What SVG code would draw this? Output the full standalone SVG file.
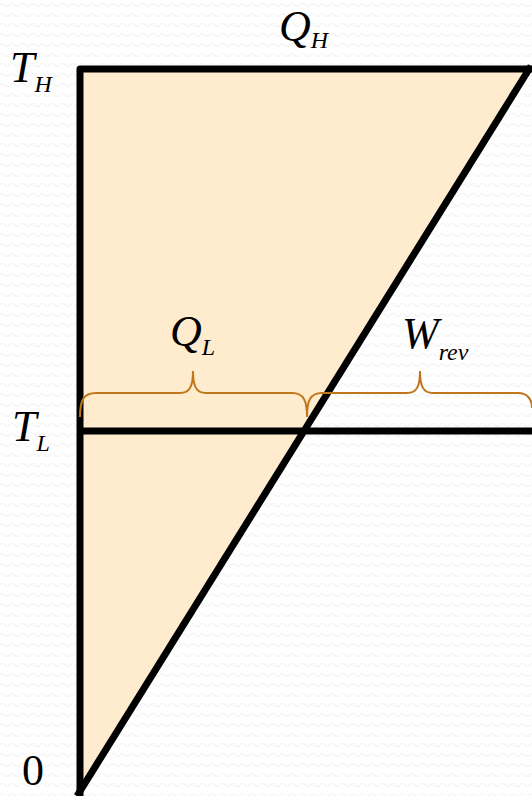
<svg xmlns="http://www.w3.org/2000/svg" width="532" height="796" viewBox="0 0 532 796">
<defs>
<pattern id="bg" width="10" height="10" patternUnits="userSpaceOnUse">
<path d="M0,5 Q2.5,2 5,5 T10,5" fill="none" stroke="#f3f3f3" stroke-width="1.2"/>
</pattern>
<style>
.lbl{font-family:"Liberation Serif","Times New Roman",serif;font-size:44px;font-style:italic;fill:#000}
.sub{font-size:24px}
.axis{fill:none;stroke:#000;stroke-width:7;stroke-linejoin:round}
.brace{fill:none;stroke:#C0771C;stroke-width:2}
</style>
</defs>
<rect width="532" height="796" fill="#fff"/>
<rect width="532" height="796" fill="url(#bg)"/>
<g id="triangle">
<polygon points="80,69 528,69 80,790" fill="#FFEBCD"/>
</g>
<g id="connectors">
<polyline class="axis" points="80,796 80,69 536,69"/>
<line class="axis" x1="77" y1="796" x2="531" y2="66" stroke-linejoin="miter"/>
<line class="axis" x1="80" y1="431" x2="536" y2="431"/>
</g>
<g id="braces">
<path class="brace" d="M80,417 C80,401 83,393 96,393 L180,393 C190,393 193,386 193,371 C193,386 196,393 206,393 L292,393 C304,393 307,401 307,417"/>
<path class="brace" d="M307,417 C307,401 310,393 322,393 L407,393 C417,393 420,386 420,371 C420,386 423,393 433,393 L518,393 C528,393 532,400 532,408"/>
</g>
<g id="labels">
<text class="lbl" x="10" y="82">T<tspan class="sub" dy="10">H</tspan></text>
<text class="lbl" x="279" y="41">Q<tspan class="sub" dy="7">H</tspan></text>
<text class="lbl" x="170" y="346">Q<tspan class="sub" dy="9">L</tspan></text>
<text class="lbl" x="402" y="348">W<tspan class="sub" dy="12">rev</tspan></text>
<text class="lbl" x="12" y="441">T<tspan class="sub" dy="10">L</tspan></text>
<text class="lbl" x="22" y="785" style="font-style:normal">0</text>
</g>
</svg>
